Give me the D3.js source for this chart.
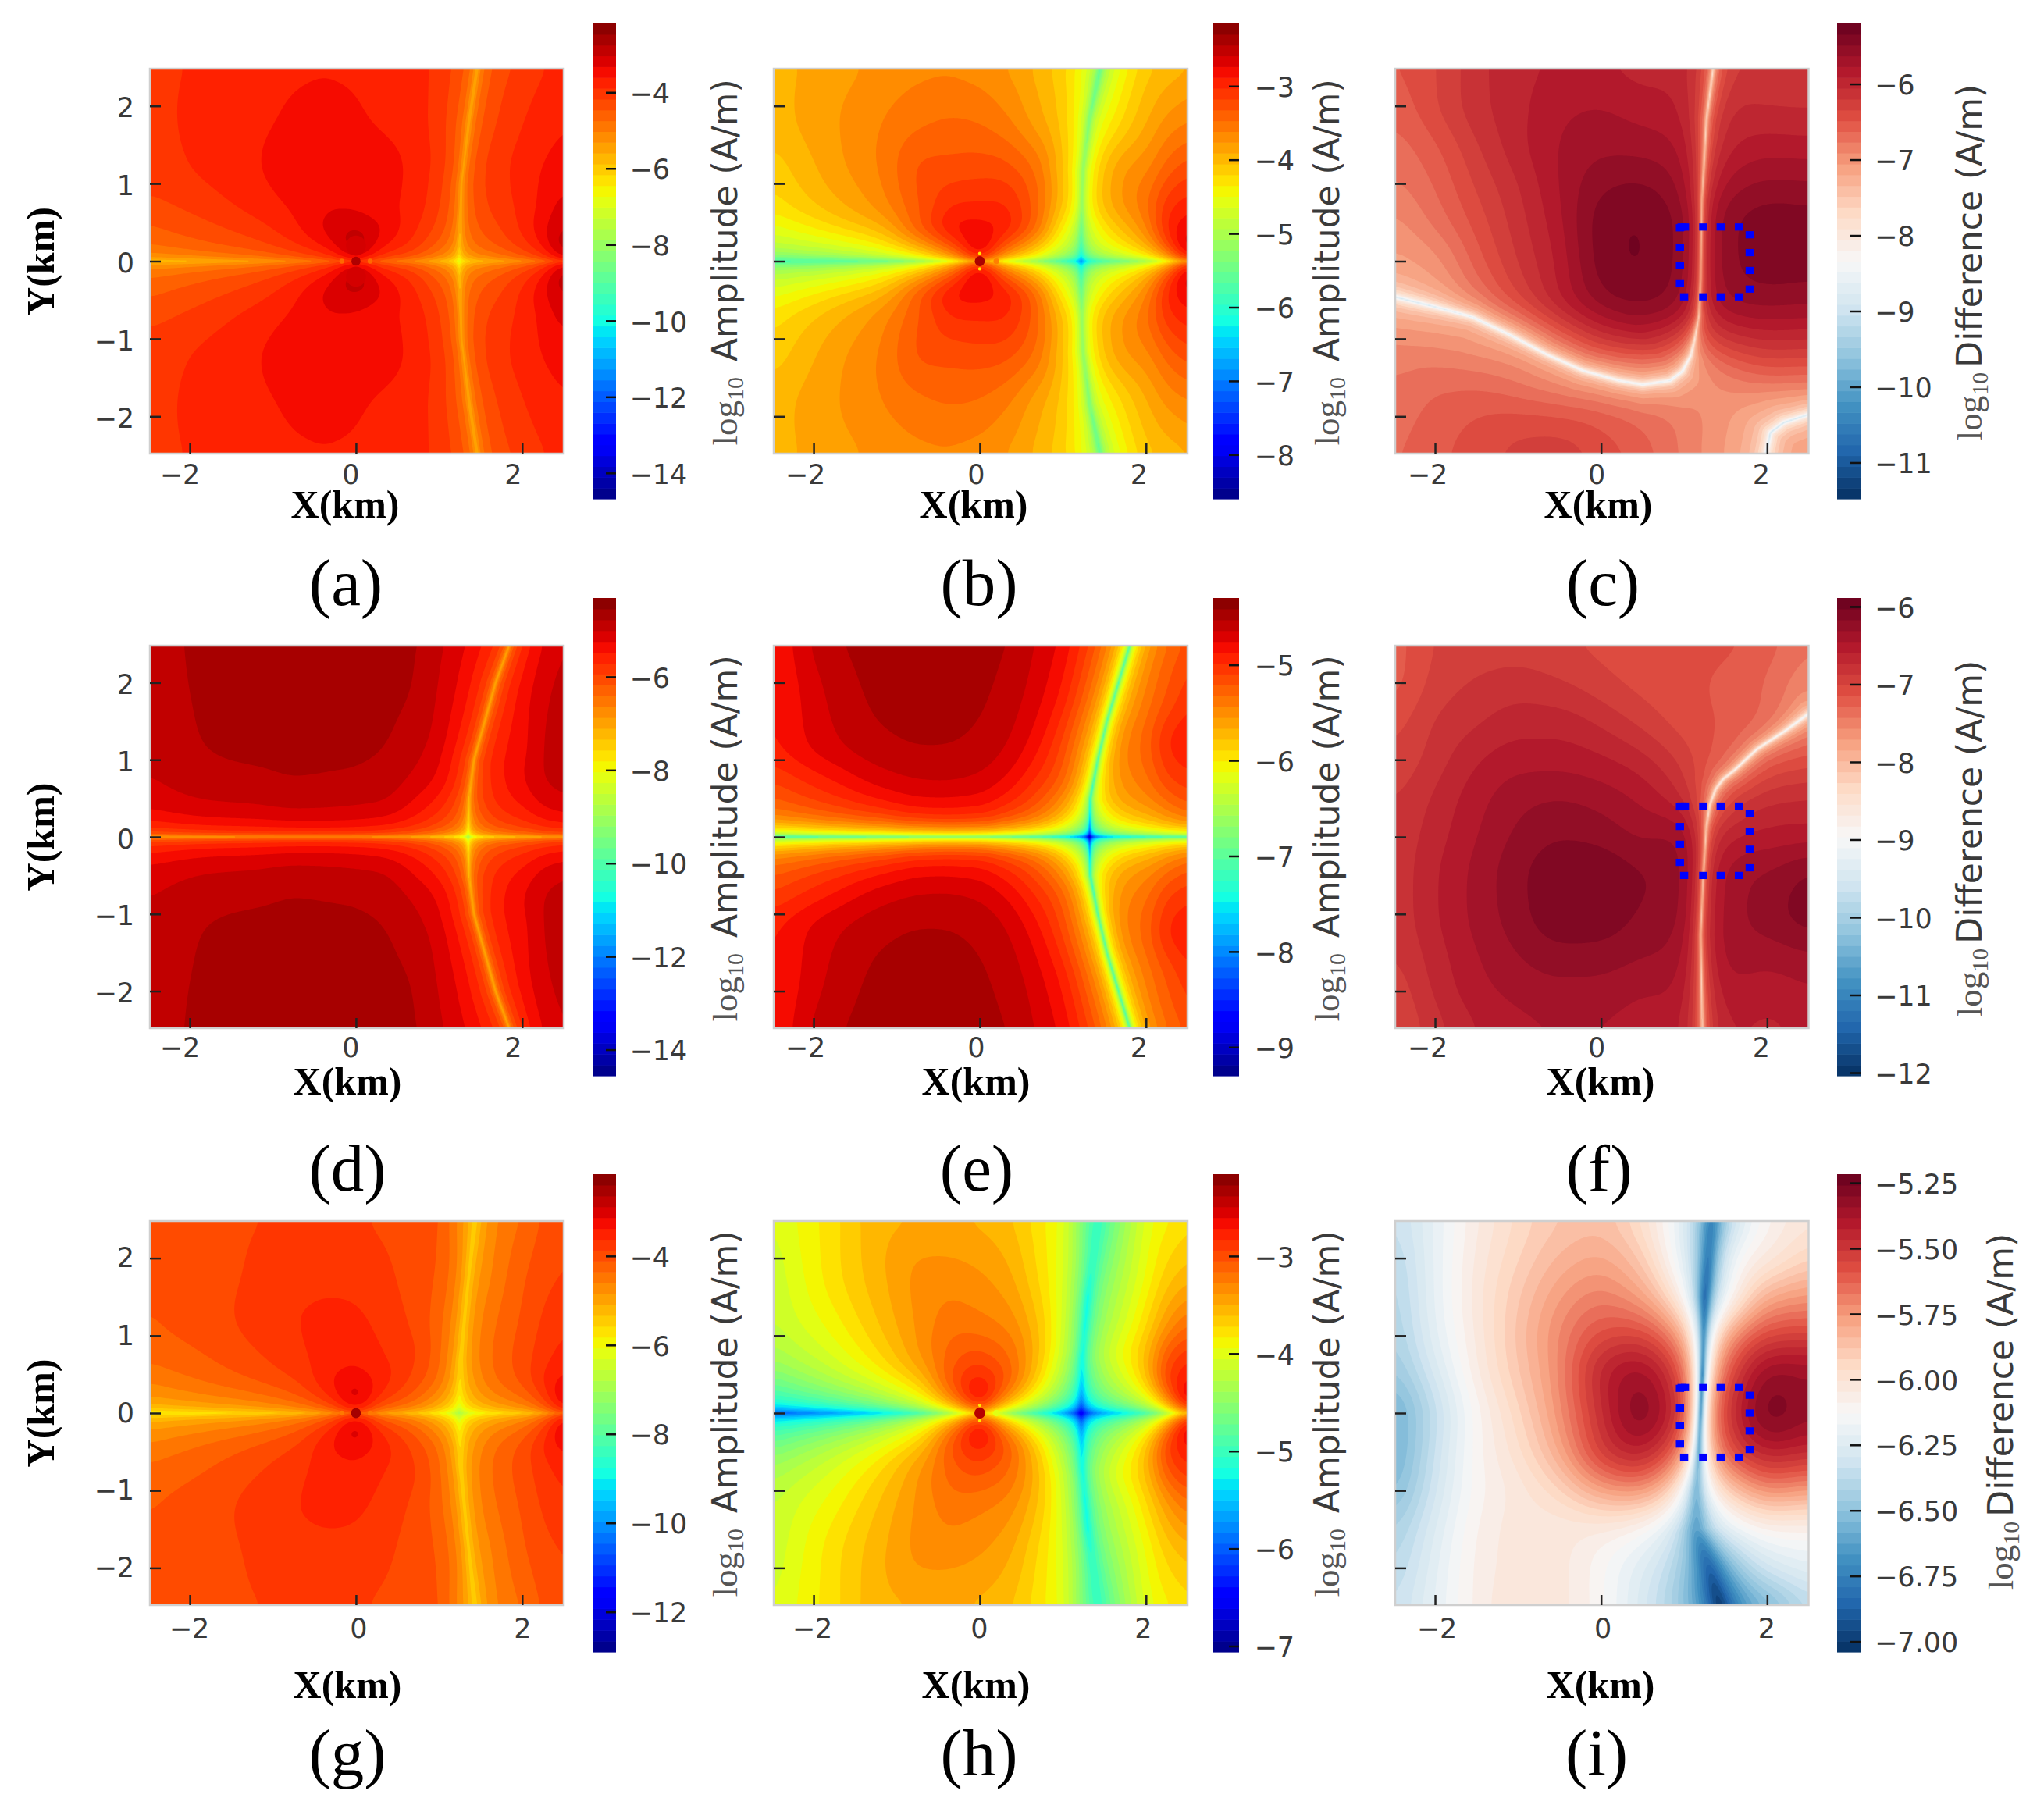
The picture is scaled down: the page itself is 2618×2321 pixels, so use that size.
<!DOCTYPE html>
<html><head><meta charset="utf-8">
<style>html,body{margin:0;padding:0;background:#fff}svg{display:block}</style>
<script src="https://cdn.jsdelivr.net/npm/d3@7"></script></head>
<body><svg id="chart" width="2618" height="2321" xmlns="http://www.w3.org/2000/svg"></svg>
<script>
// ---------- values (log10 A/m) ----------
const symXs=[-2.5,-1.8,-1.2,-0.7,-0.3,0,0.3,0.7,1.0,1.3,1.6,2.0,2.25,2.5];
const symYs=[2.5,1.8,1.2,0.7,0.4,0.2,0];
const fullXs=[-2.5,-2,-1.5,-1,-0.5,0,0.5,1,1.5,2,2.5];
const fullYs=[2.5,2,1.5,1,0.5,0,-0.5,-1,-1.5,-2,-2.5];

const fieldA=[
[-3.95,-3.82,-3.66,-3.6,-3.58,-3.58,-3.6,-3.62,-3.74,-3.8,-3.85,-3.88,-3.78,-3.7],
[-3.97,-3.76,-3.62,-3.52,-3.49,-3.5,-3.54,-3.58,-3.68,-3.8,-3.8,-3.72,-3.6,-3.54],
[-3.98,-3.78,-3.57,-3.36,-3.25,-3.25,-3.33,-3.46,-3.58,-3.7,-3.68,-3.6,-3.45,-3.38],
[-4.17,-3.92,-3.65,-3.4,-3.2,-3.2,-3.3,-3.42,-3.6,-3.7,-3.7,-3.56,-3.3,-3.0],
[-4.28,-4.03,-3.77,-3.38,-2.92,-2.7,-2.97,-3.4,-3.62,-3.7,-3.76,-3.47,-3.06,-2.68],
[-4.3,-4.05,-3.8,-3.42,-2.92,-2.3,-2.95,-3.35,-3.65,-3.7,-3.75,-3.45,-3.0,-2.2],
[-4.3,-4.07,-3.82,-3.45,-3.0,-2.3,-3.0,-3.35,-3.65,-3.7,-3.75,-3.45,-3.05,-2.2]];
const fieldB=[
[-3.9,-3.77,-3.63,-3.54,-3.5,-3.5,-3.52,-3.58,-3.6,-3.65,-3.7,-3.62,-3.65,-3.66],
[-3.9,-3.69,-3.5,-3.34,-3.26,-3.24,-3.26,-3.36,-3.38,-3.4,-3.55,-3.48,-3.38,-3.35],
[-4.0,-3.68,-3.42,-3.08,-3.0,-2.93,-2.88,-2.95,-3.17,-3.2,-3.17,-3.2,-3.03,-2.93],
[-4.03,-3.71,-3.4,-2.96,-2.63,-2.56,-2.5,-2.73,-3.05,-3.05,-3.05,-2.95,-2.6,-2.5],
[-4.14,-3.82,-3.5,-2.82,-2.31,-2.17,-2.26,-2.64,-3.16,-3.2,-3.16,-2.91,-2.36,-2.11],
[-4.16,-3.94,-3.62,-3.04,-2.36,-1.81,-2.33,-2.86,-3.18,-3.2,-3.18,-2.93,-2.33,-1.68],
[-4.16,-3.95,-3.65,-3.2,-2.5,-1.6,-2.5,-2.9,-3.2,-3.2,-3.2,-2.95,-2.5,-1.5]];
const fieldD=[
[-4.85,-4.68,-4.59,-4.57,-4.57,-4.57,-4.58,-4.6,-4.74,-4.87,-4.95,-4.88,-4.77,-4.74],
[-4.85,-4.68,-4.59,-4.56,-4.56,-4.57,-4.58,-4.58,-4.73,-4.85,-4.95,-4.87,-4.75,-4.67],
[-4.87,-4.67,-4.59,-4.56,-4.56,-4.56,-4.56,-4.61,-4.69,-4.85,-4.9,-4.91,-4.71,-4.62],
[-4.85,-4.7,-4.65,-4.58,-4.58,-4.57,-4.57,-4.67,-4.72,-4.85,-4.9,-4.83,-4.67,-4.62],
[-4.85,-4.7,-4.65,-4.58,-4.58,-4.58,-4.57,-4.72,-4.82,-4.9,-4.9,-4.88,-4.72,-4.67],
[-4.88,-4.72,-4.66,-4.6,-4.58,-4.58,-4.6,-4.72,-4.85,-4.9,-4.9,-4.88,-4.75,-4.7],
[-4.9,-4.75,-4.68,-4.62,-4.6,-4.6,-4.62,-4.72,-4.85,-4.9,-4.9,-4.88,-4.77,-4.72]];
const fieldE=[
[-4.85,-4.52,-4.44,-4.42,-4.42,-4.42,-4.43,-4.52,-4.59,-4.74,-4.9,-4.95,-4.95,-4.94],
[-4.85,-4.57,-4.44,-4.4,-4.4,-4.41,-4.44,-4.53,-4.62,-4.8,-4.9,-4.95,-4.9,-4.82],
[-4.81,-4.58,-4.46,-4.41,-4.4,-4.41,-4.45,-4.57,-4.7,-4.85,-4.85,-4.91,-4.72,-4.69],
[-4.92,-4.7,-4.52,-4.44,-4.42,-4.43,-4.49,-4.63,-4.71,-4.85,-4.9,-4.96,-4.81,-4.76],
[-4.95,-4.75,-4.58,-4.46,-4.44,-4.44,-4.52,-4.66,-4.79,-4.9,-4.95,-4.99,-4.89,-4.79],
[-4.97,-4.8,-4.65,-4.5,-4.45,-4.45,-4.55,-4.7,-4.85,-5.0,-5.0,-5.0,-4.9,-4.8],
[-5.3,-5.1,-5.0,-4.9,-4.85,-4.85,-4.9,-4.95,-5.0,-5.1,-5.1,-5.05,-5.0,-5.0]];
const fieldG=[
[-4.05,-3.93,-3.82,-3.76,-3.71,-3.7,-3.74,-3.72,-3.6,-3.95,-3.95,-3.97,-3.81,-3.77],
[-4.03,-3.92,-3.75,-3.63,-3.57,-3.55,-3.58,-3.65,-3.58,-3.75,-3.93,-3.81,-3.7,-3.66],
[-4.05,-3.89,-3.67,-3.5,-3.4,-3.38,-3.44,-3.52,-3.6,-3.75,-3.8,-3.72,-3.56,-3.47],
[-4.16,-3.95,-3.72,-3.48,-3.25,-3.15,-3.24,-3.33,-3.5,-3.75,-3.7,-3.58,-3.37,-3.2],
[-4.28,-4.02,-3.78,-3.5,-3.0,-2.75,-3.0,-3.3,-3.48,-3.75,-3.66,-3.5,-3.13,-2.8],
[-4.32,-4.1,-3.88,-3.55,-2.95,-2.3,-2.95,-3.33,-3.6,-3.75,-3.7,-3.54,-3.12,-2.3],
[-4.3,-4.1,-3.9,-3.6,-3.1,-2.3,-3.1,-3.35,-3.6,-3.75,-3.7,-3.55,-3.15,-2.2]];
const fieldH=[
[-4.0,-3.7,-3.44,-3.38,-3.34,-3.33,-3.33,-3.39,-3.41,-3.8,-3.8,-3.56,-3.51,-3.51],
[-4.05,-3.68,-3.4,-3.2,-3.15,-3.14,-3.15,-3.26,-3.33,-3.55,-3.65,-3.48,-3.33,-3.28],
[-4.04,-3.73,-3.41,-3.13,-2.96,-2.94,-2.93,-3.06,-3.23,-3.45,-3.48,-3.28,-3.03,-2.88],
[-4.12,-3.8,-3.44,-3.05,-2.69,-2.55,-2.6,-2.88,-3.15,-3.3,-3.25,-3.0,-2.55,-2.4],
[-4.25,-3.88,-3.52,-3.08,-2.44,-2.14,-2.36,-2.84,-3.16,-3.3,-3.26,-2.91,-2.31,-2.06],
[-4.31,-3.99,-3.6,-3.12,-2.36,-1.81,-2.33,-2.91,-3.18,-3.3,-3.28,-2.98,-2.33,-1.63],
[-4.35,-4.05,-3.7,-3.15,-2.5,-1.8,-2.5,-2.95,-3.2,-3.3,-3.3,-3.0,-2.5,-1.6]];
const fieldC=[
[-6.5,-6.35,-6.1,-5.95,-5.9,-5.9,-5.95,-5.85,-5.95,-6.15,-6.2],
[-6.6,-6.35,-6.1,-5.95,-5.8,-5.75,-5.8,-5.75,-5.85,-6.0,-6.05],
[-6.7,-6.5,-6.2,-5.95,-5.75,-5.65,-5.65,-5.6,-5.75,-5.8,-5.85],
[-6.8,-6.6,-6.3,-6.05,-5.75,-5.5,-5.42,-5.45,-5.55,-5.55,-5.6],
[-6.95,-6.7,-6.4,-6.1,-5.8,-5.37,-5.28,-5.3,-5.35,-5.35,-5.4],
[-7.0,-6.9,-6.5,-6.15,-5.85,-5.38,-5.27,-5.3,-5.35,-5.35,-5.4],
[-7.0,-6.9,-6.6,-6.25,-5.85,-5.5,-5.37,-5.35,-5.45,-5.5,-5.55],
[-6.85,-6.85,-6.85,-6.75,-6.45,-6.05,-5.9,-6.0,-6.0,-5.95,-6.0],
[-6.75,-6.65,-6.65,-6.7,-6.75,-6.75,-6.75,-6.8,-6.7,-6.55,-6.55],
[-6.7,-6.55,-6.45,-6.4,-6.4,-6.45,-6.55,-6.7,-6.9,-7.0,-6.95],
[-6.65,-6.5,-6.4,-6.25,-6.2,-6.35,-6.5,-6.75,-6.95,-7.0,-6.9]];
const fieldF=[
[-7.25,-7.0,-6.95,-6.95,-7.0,-7.05,-7.1,-7.1,-7.1,-7.2,-7.4],
[-7.25,-6.95,-6.85,-6.8,-6.85,-6.95,-7.05,-7.1,-7.15,-7.25,-7.45],
[-7.1,-6.85,-6.75,-6.65,-6.65,-6.75,-6.9,-7.05,-7.1,-7.15,-7.3],
[-7.0,-6.8,-6.6,-6.5,-6.5,-6.55,-6.65,-6.85,-7.05,-7.0,-7.0],
[-6.9,-6.7,-6.5,-6.35,-6.3,-6.35,-6.45,-6.6,-6.85,-6.7,-6.7],
[-6.85,-6.65,-6.45,-6.27,-6.17,-6.2,-6.3,-6.15,-6.45,-6.5,-6.5],
[-6.85,-6.6,-6.4,-6.2,-6.05,-6.03,-6.12,-6.1,-6.25,-6.25,-6.1],
[-6.85,-6.6,-6.4,-6.22,-6.05,-6.05,-6.15,-6.1,-6.25,-6.2,-6.05],
[-6.9,-6.65,-6.45,-6.3,-6.2,-6.2,-6.25,-6.2,-6.25,-6.35,-6.3],
[-7.0,-6.7,-6.5,-6.4,-6.35,-6.35,-6.4,-6.3,-6.35,-6.5,-6.45],
[-7.05,-6.8,-6.6,-6.5,-6.45,-6.45,-6.5,-6.4,-6.45,-6.6,-6.55]];
const fieldI=[
[-6.35,-6.2,-6.05,-5.95,-5.88,-5.85,-5.95,-6.1,-6.15,-6.05,-6.0],
[-6.4,-6.2,-6.03,-5.92,-5.82,-5.77,-5.85,-6.05,-6.0,-5.98,-5.9],
[-6.43,-6.2,-6.02,-5.88,-5.75,-5.67,-5.72,-5.88,-5.95,-5.75,-5.72],
[-6.45,-6.22,-6.03,-5.86,-5.7,-5.55,-5.5,-5.58,-5.6,-5.5,-5.52],
[-6.5,-6.28,-6.05,-5.88,-5.7,-5.42,-5.3,-5.38,-5.42,-5.28,-5.33],
[-6.6,-6.35,-6.1,-5.93,-5.72,-5.45,-5.24,-5.3,-5.35,-5.22,-5.32],
[-6.6,-6.33,-6.1,-5.97,-5.78,-5.5,-5.37,-5.45,-5.45,-5.38,-5.45],
[-6.55,-6.3,-6.1,-6.02,-5.92,-5.75,-5.68,-5.78,-5.78,-5.68,-5.75],
[-6.45,-6.25,-6.08,-6.02,-6.02,-6.02,-6.05,-6.1,-6.1,-6.05,-6.07],
[-6.4,-6.22,-6.07,-6.02,-6.02,-6.1,-6.2,-6.3,-6.35,-6.25,-6.2],
[-6.35,-6.2,-6.07,-6.0,-6.02,-6.1,-6.25,-6.4,-6.5,-6.5,-6.35]];

// nodal curves: [x km, y km, core half-width km]; "reach" = how far the dip extends
const nodalA=[{reach:0.7,pts:[[1.46,2.5,0.015],[1.36,1.8,0.015],[1.27,1,0.015],[1.24,0,0.015]]},{reach:0.6,pts:[[-2.5,0,0.02],[2.5,0,0.02]]}];
const nodalB=[{reach:1.5,pts:[[1.45,2.5,0.02],[1.32,1.83,0.02],[1.24,1.16,0.02],[1.22,0.3,0.02],[1.22,0,0.02]]},{reach:1.0,pts:[[-2.5,0,0.03],[-1,0,0.015],[2.5,0,0.02]]}];
const nodalD=[{reach:1.0,pts:[[1.85,2.5,0.008],[1.68,2,0.008],[1.55,1.5,0.008],[1.42,1,0.008],[1.36,0.5,0.008],[1.35,0,0.008]]},{reach:0.8,pts:[[-2.5,0,0.004],[2.5,0,0.004]]}];
const nodalE=[{reach:0.9,pts:[[1.81,2.5,0.006],[1.53,1.5,0.006],[1.42,1,0.006],[1.33,0.5,0.006],[1.32,0,0.006]]},{reach:0.8,pts:[[-2.5,0.0,0.005],[2.5,0.0,0.005]]}];
const nodalG=[{reach:1.2,pts:[[1.43,2.5,0.04],[1.33,1.5,0.03],[1.26,0.7,0.03],[1.24,0,0.03]]},{reach:0.7,pts:[[-2.5,0,0.02],[2.5,0,0.02]]}];
const nodalH=[{reach:1.5,pts:[[1.42,2.5,0.1],[1.3,1.5,0.035],[1.23,0.7,0.03],[1.22,0,0.03]]},{reach:1.0,pts:[[-2.5,0,0.025],[2.5,0,0.03]]}];
const nodalC=[{reach:0.4,pts:[[1.35,2.48,0.004],[1.27,1.83,0.004],[1.215,0.8,0.004],[1.2,-0.23,0.004],[1.18,-0.7,0.004],[1.13,-1,0.004],[1.08,-1.22,0.004],[0.98,-1.42,0.004],[0.83,-1.54,0.004],[0.5,-1.59,0.004],[0.22,-1.54,0.004],[-0.22,-1.41,0.004],[-0.66,-1.2,0.004],[-1.1,-0.95,0.004],[-1.55,-0.72,0.004],[-2,-0.59,0.004],[-2.49,-0.46,0.004]]},
  {reach:0.4,pts:[[2.49,-1.98,0.004],[2.2,-2.08,0.004],[2.04,-2.21,0.004],[1.99,-2.47,0.004]]}];
const nodalF=[{reach:0.35,pts:[[1.22,-2.48,0.003],[1.2,-1.27,0.003],[1.23,-0.52,0.004],[1.27,0.14,0.004],[1.31,0.42,0.004],[1.38,0.62,0.004],[1.47,0.75,0.004],[1.6,0.86,0.003],[1.88,1.14,0.003],[2.21,1.37,0.003],[2.49,1.59,0.003]]}];
const nodalI=[{reach:0.4,pts:[[1.33,2.5,0.1],[1.25,1.5,0.05],[1.22,0.5,0.02],[1.2,0,0.02],[1.18,-0.5,0.03],[1.15,-1,0.07],[1.15,-1.5,0.12],[1.3,-2,0.12],[1.43,-2.5,0.12]]}];

// small dots at the source: [x km, y km, value, radius km]
const sourceA=[[0,0.2,-3.1,0.12],[0,-0.2,-3.1,0.12],[0,0,-2.7,0.055],[0.17,0,-4.7,0.03],[-0.17,0,-4.7,0.03]];
const sourceB=[[0,0,-2.4,0.06],[0.2,0,-3.6,0.035],[0,-0.1,-4.3,0.02],[0,0.1,-4.3,0.02]];
const sourceG=[[0,0,-2.5,0.06],[0.17,0,-4.5,0.03],[-0.17,0,-4.5,0.03]];
const sourceH=[[0,0,-2.4,0.065],[0.2,0,-4.0,0.04],[0,-0.1,-3.8,0.02],[0,0.1,-3.8,0.02]];

const boxSquares=[[0.97,0.44],[1.01,0.44],[1.23,0.44],[1.44,0.44],[1.66,0.44],[1.79,0.34],[1.79,0.11],[1.79,-0.12],[1.79,-0.36],[1.66,-0.46],[1.44,-0.46],[1.23,-0.46],[1.0,-0.46],[0.95,-0.29],[0.95,-0.055],[0.95,0.175],[0.95,0.43]];

const xTicks=[-2,0,2], yTicks=[-2,-1,0,1,2];
const barTicksA=[-4,-6,-8,-10,-12,-14], barTicksB=[-3,-4,-5,-6,-7,-8], barTicksC=[-6,-7,-8,-9,-10,-11];
const barTicksD=[-6,-8,-10,-12,-14], barTicksE=[-5,-6,-7,-8,-9], barTicksF=[-6,-7,-8,-9,-10,-11,-12];
const barTicksG=[-4,-6,-8,-10,-12], barTicksH=[-3,-4,-5,-6,-7], barTicksI=[-5.25,-5.5,-5.75,-6,-6.25,-6.5,-6.75,-7];

// ---------- colour maps ----------
const jR=d3.scaleLinear([0,.35,.66,.89,1],[0,0,255,255,128]);
const jG=d3.scaleLinear([0,.125,.375,.64,.91,1],[0,0,255,255,0,0]);
const jB=d3.scaleLinear([0,.11,.34,.65,1],[128,255,255,0,0]);
const jet=t=>`rgb(${jR(t)|0},${jG(t)|0},${jB(t)|0})`;
const rdbu=d3.piecewise(d3.interpolateRgb,["#053061","#2166ac","#4393c3","#92c5de","#d1e5f0","#f7f7f7","#fddbc7","#f7a07f","#e04f42","#b2182b","#67001f"]);

// ---------- layout ----------
const colX=[[192,722],[991,1521],[1787,2316.5]];
const rowY=[[88,581],[827,1317],[1564,2056]];
const barX=[[759,789],[1554,1587],[2353,2383]];
const barY=[[30,639],[766,1378],[1504,2116]];
const xLabPad=[14,12.5,17.5], xTitleBase=[663,1402,2175];
const subBase=[775,1525,2274];
const panels=[
 {id:"a",c:0,r:0,sym:1,f:fieldA,n:nodalA,src:sourceA,dom:[-14.68,-2.19],ticks:barTicksA,map:jet,fmt:"d",lab:[-13,-7,-12],xt:442,sub:443,kind:"A"},
 {id:"b",c:1,r:0,sym:1,f:fieldB,n:nodalB,src:sourceB,dom:[-8.6,-2.15],ticks:barTicksB,map:jet,fmt:"d",lab:[-11,-5,-9.5],xt:1247,sub:1254,kind:"A"},
 {id:"c",c:2,r:0,sym:0,f:fieldC,n:nodalC,dom:[-11.48,-5.2],ticks:barTicksC,map:rdbu,fmt:"d",lab:[-10,-6,-8],xt:2047,sub:2053,kind:"D",box:0},
 {id:"d",c:0,r:1,sym:1,f:fieldD,n:nodalD,dom:[-14.56,-4.31],ticks:barTicksD,map:jet,fmt:"d",lab:[-13,-7,-12],xt:445,sub:445,kind:"A"},
 {id:"e",c:1,r:1,sym:1,f:fieldE,n:nodalE,dom:[-9.3,-4.3],ticks:barTicksE,map:jet,fmt:"d",lab:[-11,-5,-9.5],xt:1250,sub:1251,kind:"A"},
 {id:"f",c:2,r:1,sym:0,f:fieldF,n:nodalF,dom:[-12.04,-5.89],ticks:barTicksF,map:rdbu,fmt:"d",lab:[-10,-6,-8],xt:2050,sub:2048,kind:"D",box:-0.04},
 {id:"g",c:0,r:2,sym:1,f:fieldG,n:nodalG,src:sourceG,dom:[-12.9,-2.16],ticks:barTicksG,map:jet,fmt:"d",lab:[-1,3,0],xt:445,sub:445,kind:"A"},
 {id:"h",c:1,r:2,sym:1,f:fieldH,n:nodalH,src:sourceH,dom:[-7.06,-2.16],ticks:barTicksH,map:jet,fmt:"d",lab:[-2,-1,-4],xt:1250,sub:1254,kind:"A"},
 {id:"i",c:2,r:2,sym:0,f:fieldI,n:nodalI,dom:[-7.04,-5.217],ticks:barTicksI,map:rdbu,fmt:".2f",lab:[2,2,-1],xt:2050,sub:2045,kind:"D",box:-0.11}
];
const LEVELS=44, STEP=1.75;
const SANS="'DejaVu Sans',sans-serif", SERIF="'Liberation Serif',serif";
const INK="#3a3a3a";
const minus=s=>s.replace("-","\u2212");
const svg=d3.select("#chart");
svg.append("rect").attr("width",2618).attr("height",2321).attr("fill","#fff");

// monotone cubic through (xs ascending, ys)
function monotone(xs,ys){
  const n=xs.length,h=[],s=[],m=new Array(n);
  for(let i=0;i<n-1;i++){h[i]=xs[i+1]-xs[i];s[i]=(ys[i+1]-ys[i])/h[i];}
  m[0]=s[0];m[n-1]=s[n-2];
  for(let i=1;i<n-1;i++){
    if(s[i-1]*s[i]<=0)m[i]=0;
    else{const a=h[i-1]+2*h[i],b=2*h[i-1]+h[i];m[i]=(a+b)/(a/s[i-1]+b/s[i]);}
  }
  return x=>{
    let i=d3.bisectRight(xs,x)-1; i=Math.max(0,Math.min(n-2,i));
    const t=(x-xs[i])/h[i],t2=t*t,t3=t2*t;
    return (2*t3-3*t2+1)*ys[i]+(t3-2*t2+t)*h[i]*m[i]+(-2*t3+3*t2)*ys[i+1]+(t3-t2)*h[i]*m[i+1];
  };
}
function dip(curve,x,y){
  const p=curve.pts;let best=1e9,core=0;
  for(let k=0;k<p.length-1;k++){
    const ax=p[k][0],ay=p[k][1],dx=p[k+1][0]-ax,dy=p[k+1][1]-ay;
    let t=((x-ax)*dx+(y-ay)*dy)/(dx*dx+dy*dy);t=t<0?0:t>1?1:t;
    const ex=x-ax-t*dx,ey=y-ay-t*dy,d=ex*ex+ey*ey;
    if(d<best){best=d;core=p[k][2]+t*(p[k+1][2]-p[k][2]);}
  }
  return .5*Math.log10((best+core*core)/(best+curve.reach*curve.reach));
}

panels.forEach(P=>{
  const [x0,x1]=colX[P.c],[y0,y1]=rowY[P.r];
  const xS=d3.scaleLinear([-2.48,2.5],[x0,x1]);
  const yS=d3.scaleLinear([-2.48,2.48],[y1,y0]);
  const xs=P.sym?symXs:fullXs, ysDesc=P.sym?symYs:fullYs;
  const ysAsc=ysDesc.slice().reverse();
  const W=Math.round((x1-x0)/STEP),H=Math.round((y1-y0)/STEP);
  const gx=d3.range(W).map(i=>xS.invert(x0+(i+.5)*(x1-x0)/W));
  const gy=d3.range(H).map(j=>yS.invert(y0+(j+.5)*(y1-y0)/H));
  // resample each read row along x, then along y, soften, add nodal dips
  const rows=P.f.map(r=>{const fn=monotone(xs,r);return gx.map(fn);});
  const [lo,hi]=P.dom;
  const vals=new Float64Array(W*H);
  for(let i=0;i<W;i++){
    const fn=monotone(ysAsc,ysDesc.map((_,k)=>rows[ysDesc.length-1-k][i]));
    for(let j=0;j<H;j++)vals[j*W+i]=fn(P.sym?Math.abs(gy[j]):gy[j]);
  }
  d3.blur2({data:vals,width:W,height:H},P.sym?5:9);
  for(let i=0;i<W;i++)for(let j=0;j<H;j++){
    const yy=P.sym?Math.abs(gy[j]):gy[j];
    let v=vals[j*W+i];
    for(const c of P.n)v+=dip(c,gx[i],yy);
    vals[j*W+i]=Math.max(lo+1e-3,Math.min(hi-1e-3,v));
  }
  const bandT=k=>(k+.5)/LEVELS;
  const thresholds=d3.range(LEVELS).map(k=>lo+(hi-lo)*k/LEVELS);
  const contours=d3.contours().size([W,H]).thresholds(thresholds)(vals);
  const proj=d3.geoTransform({point(a,b){this.stream.point(x0+a*(x1-x0)/W,y0+b*(y1-y0)/H);}});
  const path=d3.geoPath(proj);
  const g=svg.append("g").attr("class","panel-"+P.id);
  const clipId="clip"+P.id;
  g.append("clipPath").attr("id",clipId).append("rect").attr("x",x0).attr("y",y0).attr("width",x1-x0).attr("height",y1-y0);
  const mapG=g.append("g").attr("clip-path",`url(#${clipId})`).append("g").style("filter","blur(0.7px)");
  mapG.selectAll("path").data(contours.filter(c=>c.coordinates.length)).join("path")
    .attr("d",path).attr("fill",c=>P.map(bandT(thresholds.indexOf(c.value))));
  if(P.src){
    const cS=v=>P.map((v-lo)/(hi-lo));
    mapG.selectAll("circle").data(P.src).join("circle")
      .attr("cx",d=>xS(d[0])).attr("cy",d=>yS(d[1]))
      .attr("r",d=>d[3]*(x1-x0)/4.98).attr("fill",d=>cS(d[2]));
  }
  g.append("rect").attr("x",x0).attr("y",y0).attr("width",x1-x0).attr("height",y1-y0)
    .attr("fill","none").attr("stroke","#cfcfcf").attr("stroke-width",2.5);

  // axes
  const ax=g.append("g").attr("transform",`translate(0,${y1})`)
    .call(d3.axisBottom(xS).tickValues(xTicks).tickSize(-13).tickPadding(xLabPad[P.r]).tickFormat(d=>minus(String(d))));
  ax.select(".domain").remove();
  ax.selectAll("line").attr("stroke","#222").attr("stroke-width",2.5);
  ax.selectAll("text").attr("font-family",SANS).attr("font-size",35).attr("fill",INK)
    .attr("transform",(d,i)=>`translate(${P.lab[i]},0)`);
  const ay=g.append("g").attr("transform",`translate(${x0},0)`)
    .call(d3.axisLeft(yS).tickValues(yTicks).tickSize(-14).tickPadding(20).tickFormat(d=>P.c===0?minus(String(d)):""));
  ay.select(".domain").remove();
  ay.selectAll("line").attr("stroke","#222").attr("stroke-width",2.5);
  ay.selectAll("text").attr("font-family",SANS).attr("font-size",35).attr("fill",INK)
    .attr("transform",`translate(0,${P.r===2?0:3})`);

  // axis titles and panel letter
  g.append("text").attr("x",P.xt).attr("y",xTitleBase[P.r]).attr("text-anchor","middle")
    .attr("font-family",SERIF).attr("font-weight","bold").attr("font-size",50).attr("fill","#000").text("X(km)");
  if(P.c===0){
    g.append("text").attr("transform",`translate(69,${(y0+y1)/2}) rotate(-90)`).attr("text-anchor","middle")
      .attr("font-family",SERIF).attr("font-weight","bold").attr("font-size",50).attr("fill","#000").text("Y(km)");
  }
  g.append("text").attr("x",P.sub).attr("y",subBase[P.r]).attr("text-anchor","middle")
    .attr("font-family",SERIF).attr("font-size",85).attr("fill","#000").text(`(${P.id})`);

  // dotted box
  if(P.box!==undefined){
    g.append("g").selectAll("rect").data(boxSquares).join("rect")
      .attr("x",d=>xS(d[0])-5.2).attr("y",d=>yS(d[1]+P.box)-4.6).attr("width",10.5).attr("height",9.2).attr("fill","#0000ff");
  }

  // colour bar
  const [bx0,bx1]=barX[P.c],[by0,by1]=barY[P.r];
  const bS=d3.scaleLinear(P.dom,[by1,by0]);
  const bar=g.append("g");
  bar.selectAll("rect").data(d3.range(LEVELS)).join("rect")
    .attr("x",bx0).attr("width",bx1-bx0)
    .attr("y",k=>bS(thresholds[k]+(hi-lo)/LEVELS)).attr("height",(by1-by0)/LEVELS+.6)
    .attr("fill",k=>P.map(bandT(k)));
  const fmt=P.fmt==="d"?(d=>minus(String(d))):(d=>minus(d3.format(".2f")(d)));
  const pad=[17.5,19.5,18][P.c];
  const ab=g.append("g").attr("transform",`translate(${bx1},0)`)
    .call(d3.axisRight(bS).tickValues(P.ticks).tickSize(-13).tickPadding(pad).tickFormat(fmt));
  ab.select(".domain").remove();
  ab.selectAll("line").attr("stroke","#111").attr("stroke-width",2.5);
  ab.selectAll("text").attr("font-family",SANS).attr("font-size",35).attr("fill",INK)
    .attr("transform","translate(0,2)");

  // colour-bar title
  const isDiff=P.kind==="D";
  const base=P.c===0?944:(P.c===1?1715:(P.id==="i"?2578:2538));
  const cy=P.id==="i"?1808:(isDiff?[336,1074][P.r]:[336,1074,1811][P.r]);
  const t=g.append("text").attr("transform",`translate(${base},${cy}) rotate(-90)`).attr("text-anchor","middle").attr("fill",INK);
  t.append("tspan").attr("font-family",SERIF).attr("font-size",45).attr("fill","#555").text("log");
  t.append("tspan").attr("font-family",SERIF).attr("font-size",30).attr("fill","#555").attr("dy",8).text("10");
  t.append("tspan").attr("font-family",SANS).attr("font-size",44).attr("dy",-8).attr("dx",isDiff?6:20)
    .text(isDiff?"Difference (A/m)":"Amplitude (A/m)");
});
</script></body></html>
